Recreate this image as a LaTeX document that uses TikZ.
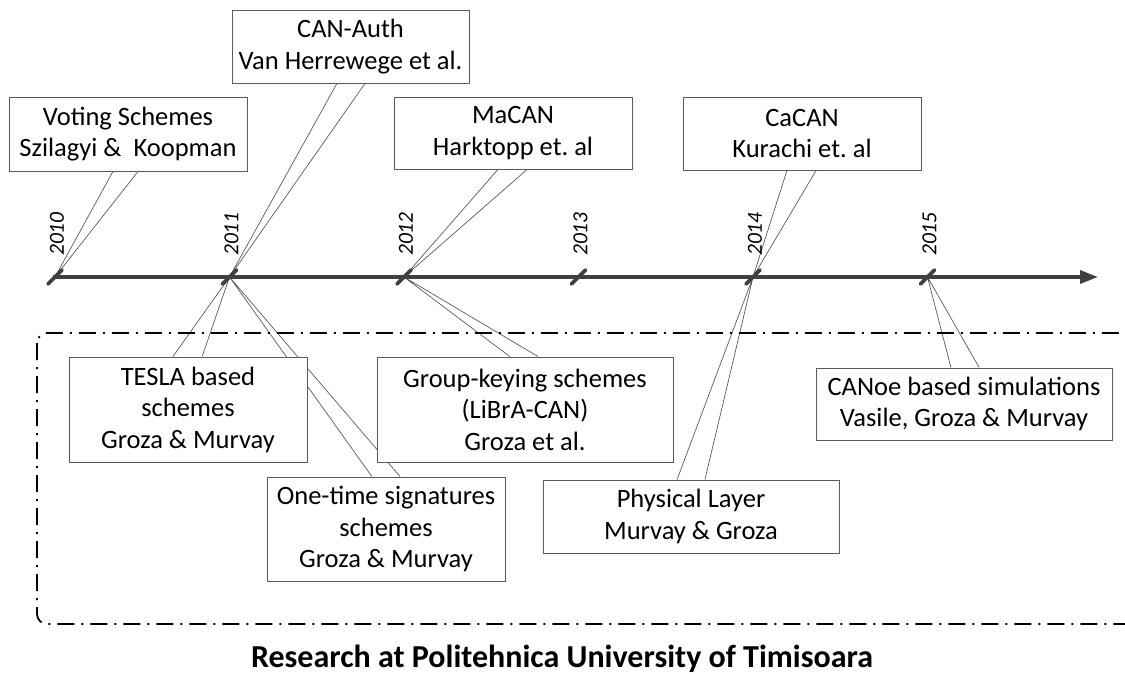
\documentclass[tikz,border=0pt]{standalone}
\usepackage{fontspec}
\setmainfont{Carlito}
\usetikzlibrary{arrows.meta, calc, backgrounds}
\definecolor{axisG}{RGB}{64,64,64}
\definecolor{boxG}{RGB}{90,90,90}
\tikzset{callout/.style={draw=boxG, line width=0.9pt, fill=white, inner sep=0pt, align=center,
  font=\fontsize{26.5}{31.5}\selectfont},
  narrow/.style={callout, minimum width=238pt},
  wide/.style={callout, minimum width=296pt},
  wedge/.style={draw=boxG, line width=0.7pt},
  yearlbl/.style={rotate=90, anchor=west, inner sep=0pt, font=\fontsize{21.5}{21.5}\selectfont\itshape}}
% two lines from a box edge down (or up) to a year tick
\newcommand{\pointer}[5]{\draw[wedge] ($(#1.#2 west)!#3!(#1.#2 east)$) -- (#5) -- ($(#1.#2 west)!#4!(#1.#2 east)$);}
\frenchspacing

\begin{document}
\begin{tikzpicture}[x=1pt, y=-1pt]
\useasboundingbox (0,0) rectangle (1125,673);
% time axis
\coordinate (axs) at (53,277);
\coordinate (axe) at (1098,277);
\draw[axisG, line width=3.3pt, -{Triangle[length=18pt,width=13pt]}] (axs) -- (axe);
\foreach \yr [count=\i from 0] in {2010,...,2015} {
  \coordinate (y\yr) at ({55+174.5*\i},277);
  \draw[axisG, line width=3.8pt, line cap=round] ($(y\yr)+(-7,7)$) -- ($(y\yr)+(7,-7)$);
  \node[yearlbl] (l\yr) at ($(y\yr)+(2,-21)$) {\yr};
}
% outside work (top)
\node[narrow, minimum height=74pt] (vote) at (128,134) {Voting Schemes\\Szilagyi \&\ \ Koopman};
\node[narrow, minimum width=237pt, minimum height=73pt] (canauth) at (350.5,46.5) {CAN-Auth\\Van Herrewege et al.};
\node[narrow, minimum height=72pt] (macan) at (513,133) {MaCAN\\Harktopp et. al};
\node[narrow, minimum height=73pt] (cacan) at (802,133.5) {CaCAN\\Kurachi et. al};
% own work (bottom)
\draw[line width=1.8pt, dash pattern=on 17pt off 7pt on 2pt off 7pt, rounded corners=10pt] (37,333) rectangle (1140,624);
\node[narrow, minimum height=105pt] (tesla) at (188,409.5) {TESLA based\\schemes\\Groza \& Murvay};
\node[narrow, minimum height=104pt] (onetime) at (386,529) {One-time signatures\\schemes\\Groza \& Murvay};
\node[wide, minimum height=105pt] (group) at (525,409.5) {Group-keying schemes\\(LiBrA-CAN)\\Groza et al.};
\node[wide, minimum height=73pt] (phys) at (691,516.5) {Physical Layer\\Murvay \& Groza};
\node[wide, minimum height=72pt] (canoe) at (964,404) {CANoe based simulations\\Vasile, Groza \& Murvay};
\node[font=\fontsize{32}{36}\selectfont\bfseries, anchor=base] (title) at (562,667) {Research at Politehnica University of Timisoara};
\begin{pgfonlayer}{background}
\pointer{vote}{south}{0.437}{0.542}{y2010}
\pointer{canauth}{south}{0.443}{0.561}{y2011}
\pointer{macan}{south}{0.437}{0.559}{y2012}
\pointer{cacan}{south}{0.437}{0.559}{y2014}
\pointer{tesla}{north}{0.437}{0.559}{y2011}
\pointer{onetime}{north}{0.441}{0.559}{y2011}
\pointer{group}{north}{0.449}{0.544}{y2012}
\pointer{phys}{north}{0.453}{0.547}{y2014}
\pointer{canoe}{north}{0.456}{0.551}{y2015}
\end{pgfonlayer}
\end{tikzpicture}
\end{document}
